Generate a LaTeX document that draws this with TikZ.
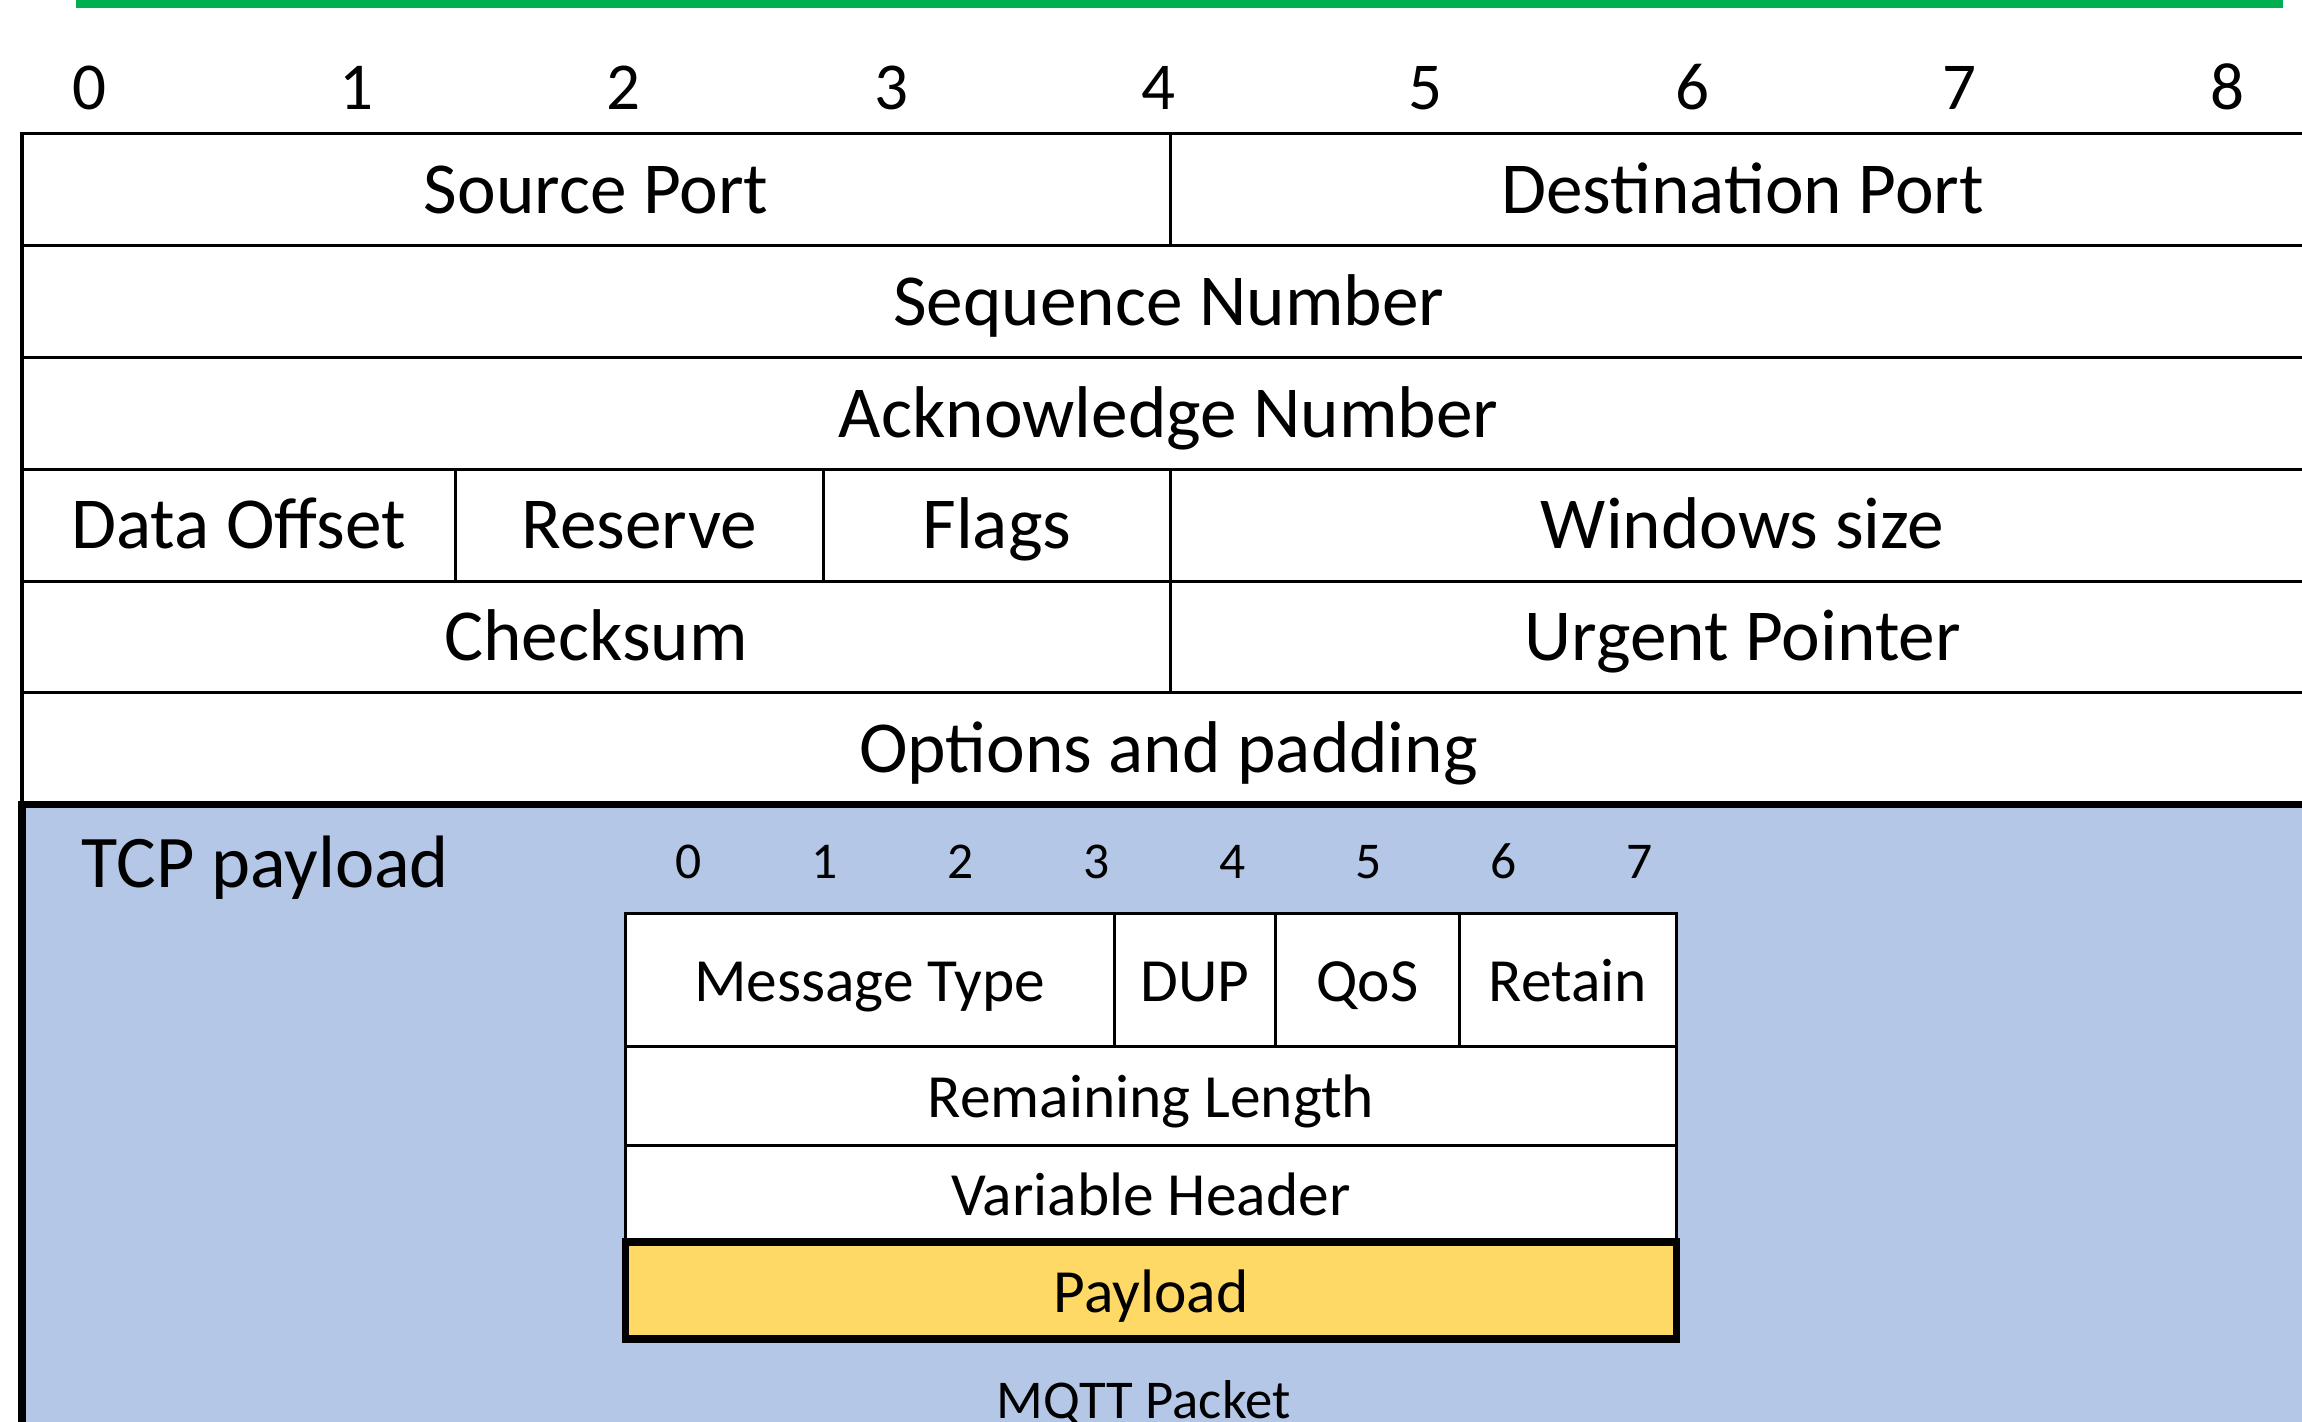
\documentclass[tikz,border=0pt]{standalone}
\usepackage{fontspec}
\setmainfont{Carlito}
\usetikzlibrary{positioning}

\definecolor{hdrgreen}{HTML}{00B050}
\definecolor{payloadblue}{HTML}{B4C7E7}
\definecolor{payloadgold}{HTML}{FFD966}

\begin{document}
\begin{tikzpicture}[
        field/.style={
            rectangle, draw=black, line width=0.6pt,
            fill=white, inner sep=0pt, outer sep=0pt,
            anchor=north west,
            minimum height=0.762cm,
            text height=9.2pt, text depth=0pt,
            font=\fontsize{14.2}{16}\selectfont
        },
        mfield/.style={
            field, minimum height=0.66cm,
            text height=8.4pt,
            font=\fontsize{11.9}{14}\selectfont
        },
        bitnum/.style={
            inner sep=0pt, text height=8.4pt, text depth=0pt,
            font=\fontsize{13}{15}\selectfont
        },
        mbitnum/.style={bitnum, text height=6.6pt, font=\fontsize{10}{12}\selectfont},
        thickline/.style={line width=1.4pt}
    ]

    \useasboundingbox (0,0) rectangle (15.68,-9.68);

    % green rule on top
    \fill[hdrgreen] (0.52,0) rectangle (15.55,-0.055);

    % byte numbers of the TCP header
    \foreach \i in {0,...,8}
        \node[bitnum] (bit\i) at ({0.61+1.82*\i},-0.60) {\i};

    % TCP header
    \node[field, minimum width=7.82cm] (srcport) at (0.15,-0.91) {Source Port};
    \node[field, minimum width=7.80cm] (dstport) at (7.97,-0.91) {Destination Port};

    \node[field, minimum width=15.62cm] (seqnum) at (0.15,-1.672) {Sequence Number};
    \node[field, minimum width=15.62cm] (acknum) at (0.15,-2.434) {Acknowledge Number};

    \node[field, minimum width=2.95cm] (offset) at (0.15,-3.196) {Data Offset};
    \node[field, minimum width=2.51cm] (reserve) at (3.10,-3.196) {Reserve};
    \node[field, minimum width=2.36cm] (flags) at (5.61,-3.196) {Flags};
    \node[field, minimum width=7.80cm] (window) at (7.97,-3.196) {Windows size};

    \node[field, minimum width=7.82cm] (checksum) at (0.15,-3.958) {Checksum};
    \node[field, minimum width=7.80cm] (urgent) at (7.97,-3.958) {Urgent Pointer};

    \node[field, minimum width=15.62cm] (options) at (0.15,-4.72) {Options and padding};

    % TCP payload area
    \fill[payloadblue] (0.15,-5.482) rectangle (15.9,-9.9);
    \draw[thickline] (0.15,-9.9) -- (0.15,-5.482) -- (15.9,-5.482);

    \node[anchor=west, inner sep=0pt, font=\fontsize{14.4}{16}\selectfont]
        (tcppayload) at (0.55,-5.91) {TCP payload};

    % bit numbers of the MQTT fixed header
    \foreach \i in {0,...,7}
        \node[mbitnum] (mbit\i) at ({4.69+0.9257*\i},-5.87) {\i};

    % MQTT packet
    \node[mfield, minimum width=3.33cm, minimum height=0.91cm] (msgtype) at (4.26,-6.22) {Message Type};
    \node[mfield, minimum width=1.10cm, minimum height=0.91cm] (dup) at (7.59,-6.22) {DUP};
    \node[mfield, minimum width=1.25cm, minimum height=0.91cm] (qos) at (8.69,-6.22) {QoS};
    \node[mfield, minimum width=1.48cm, minimum height=0.91cm] (retain) at (9.94,-6.22) {Retain};

    \node[mfield, minimum width=7.16cm, minimum height=0.67cm] (remlen) at (4.26,-7.13) {Remaining Length};
    \node[mfield, minimum width=7.16cm] (varhdr) at (4.26,-7.80) {Variable Header};
    \node[mfield, minimum width=7.16cm, fill=payloadgold, thickline] (payload) at (4.26,-8.46) {Payload};

    \node[anchor=base, inner sep=0pt, font=\fontsize{10.6}{12}\selectfont]
        (mqttlabel) at (7.79,-9.66) {MQTT Packet};

\end{tikzpicture}
\end{document}
